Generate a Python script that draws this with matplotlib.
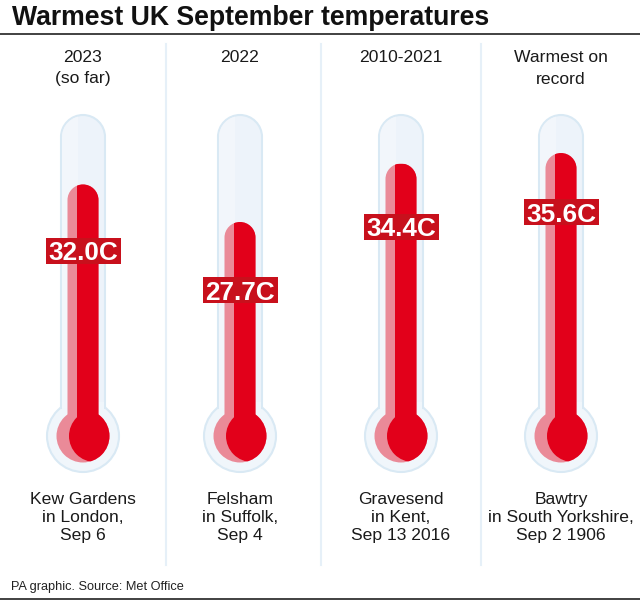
"""
Warmest UK September temperatures.
"""

import matplotlib
matplotlib.use("Agg")
import matplotlib.pyplot as plt
from matplotlib.patches import Circle, PathPatch, Rectangle
from matplotlib.path import Path

plt.rcParams['font.family'] = ['Liberation Sans', 'DejaVu Sans']

periods = ["2023\n(so far)", "2022", "2010-2021", "Warmest on\nrecord"]
temps = [32.0, 27.7, 34.4, 35.6]
places = [
    "Kew Gardens\nin London,\nSep 6",
    "Felsham\nin Suffolk,\nSep 4",
    "Gravesend\nin Kent,\nSep 13 2016",
    "Bawtry\nin South Yorkshire,\nSep 2 1906",
]

# layout, in pixels
centres = [83, 240, 401, 561]
label_y = [251, 290, 227, 212]
dividers = [166, 321, 481]

RED = '#e2001a'
PALE_RED = '#ea8a98'
LABEL_RED = '#c8101c'
GLASS = '#edf3fa'
GLASS_LIGHT = '#f2f6fb'
GLASS_EDGE = '#d9e9f4'
BULB_GLASS = '#f0f6fb'


def temp_to_y(temp):
    # 27.7C sits at y=222 and each degree is about 8.73 px
    return 222 - (temp - 27.7) * 8.73


def rounded_top(x0, x1, top, bottom):
    # column with a semicircular top
    r = (x1 - x0) / 2
    k = 0.5523 * r
    verts = [
        (x0, bottom), (x0, top + r),
        (x0, top + r - k), (x0 + r - k, top), (x0 + r, top),
        (x1 - r + k, top), (x1, top + r - k), (x1, top + r),
        (x1, bottom), (x0, bottom),
    ]
    codes = [Path.MOVETO, Path.LINETO, Path.CURVE4, Path.CURVE4, Path.CURVE4,
             Path.CURVE4, Path.CURVE4, Path.CURVE4, Path.LINETO, Path.CLOSEPOLY]
    return Path(verts, codes)


def draw_thermometer(ax, cx, temp, label_centre):
    bulb_y = 436
    # glass
    ax.add_patch(Circle((cx, bulb_y), 36, fc=BULB_GLASS, ec=GLASS_EDGE, lw=1.5, zorder=1))
    ax.add_patch(PathPatch(rounded_top(cx - 22, cx + 22, 115, bulb_y - 28),
                           fc=GLASS, ec=GLASS_EDGE, lw=1.5, zorder=2))
    ax.add_patch(Rectangle((cx - 21, bulb_y - 34), 42, 20, fc=BULB_GLASS, ec='none', zorder=3))
    highlight = PathPatch(rounded_top(cx - 21, cx + 21, 116, bulb_y - 28), fc='none', ec='none', zorder=3)
    ax.add_patch(highlight)
    strip = Rectangle((cx - 22, 115), 17, bulb_y - 115, fc=GLASS_LIGHT, ec='none', zorder=3)
    ax.add_patch(strip)
    strip.set_clip_path(highlight)

    # mercury
    top = temp_to_y(temp)
    ax.add_patch(Circle((cx, bulb_y), 26.5, fc=PALE_RED, ec='none', zorder=4))
    ax.add_patch(PathPatch(rounded_top(cx - 15.5, cx + 15.5, top, bulb_y), fc=PALE_RED, ec='none', zorder=4))
    column = PathPatch(rounded_top(cx - 15.5, cx + 15.5, top, bulb_y), fc='none', ec='none', zorder=5)
    ax.add_patch(column)
    dark = Rectangle((cx - 6, top), 22, bulb_y - top, fc=RED, ec='none', zorder=5)
    ax.add_patch(dark)
    dark.set_clip_path(column)
    # dark part of the bulb is the bulb cut by a second circle, leaving a pale crescent
    bulb_clip = Circle((cx, bulb_y), 26.5, fc='none', ec='none', zorder=5)
    ax.add_patch(bulb_clip)
    crescent = Circle((cx + 12, bulb_y), 26, fc=RED, ec='none', zorder=5)
    ax.add_patch(crescent)
    crescent.set_clip_path(bulb_clip)

    # value label
    ax.add_patch(Rectangle((cx - 37.5, label_centre - 13), 75, 26, fc=LABEL_RED, ec='none', zorder=6))
    ax.text(cx, label_centre, f"{temp:.1f}C", color='white', fontsize=18.8, fontweight='bold',
            ha='center', va='center_baseline', zorder=7)


fig = plt.figure(figsize=(6.4, 6.02), dpi=100)
ax = fig.add_axes([0, 0, 1, 1])
ax.set_xlim(0, 640)
ax.set_ylim(602, 0)
ax.axis('off')

ax.text(12, 18, "Warmest UK September temperatures", fontsize=19.2, fontweight='bold',
        color='#111111', ha='left', va='center')
ax.plot([0, 640], [34, 34], color='#333333', lw=1.3)
ax.plot([0, 640], [599, 599], color='#333333', lw=1.3)

for x in dividers:
    ax.plot([x, x], [44, 565], color='#e6f0f8', lw=1.5)

for cx, period, temp, place, ly in zip(centres, periods, temps, places, label_y):
    draw_thermometer(ax, cx, temp, ly)
    ax.text(cx, 50.5, period, fontsize=12.6, color='#1a1a1a', ha='center', va='top', linespacing=1.5)
    ax.text(cx, 492, place, fontsize=12.6, color='#1a1a1a', ha='center', va='top', linespacing=1.23)

ax.text(11, 587, "PA graphic. Source: Met Office", fontsize=9.2, color='#222222', ha='left', va='center')

fig.savefig('out.png', dpi=100)
